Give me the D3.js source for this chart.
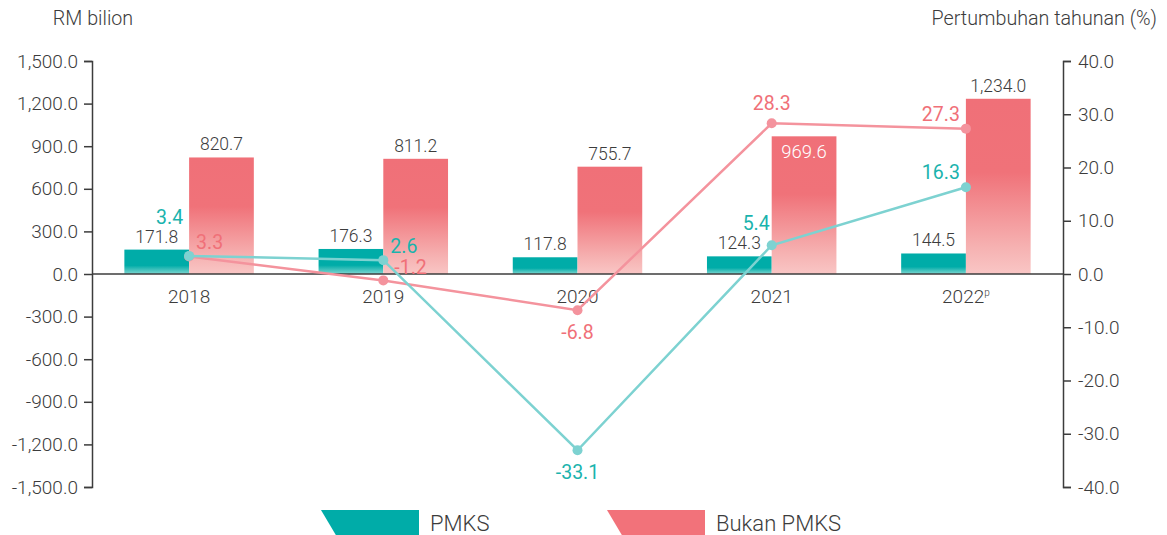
<!DOCTYPE html>
<html>
<head>
<meta charset="utf-8">
<script src="https://cdn.jsdelivr.net/npm/d3@7"></script>
<style>
  body { margin: 0; background: #fff; }
  svg { display: block; font-family: Roboto, "Noto Sans", sans-serif; }
</style>
</head>
<body>
<svg id="chart"></svg>
<script>
let width = 1167;
let height = 535;

// data
let years = ['2018', '2019', '2020', '2021', '2022'];
let pmks = [171.8, 176.3, 117.8, 124.3, 144.5];
let bukanPmks = [820.7, 811.2, 755.7, 969.6, 1234.0];
let pmksGrowth = [3.4, 2.6, -33.1, 5.4, 16.3];
let bukanGrowth = [3.3, -1.2, -6.8, 28.3, 27.3];
let leftTicks = [1500, 1200, 900, 600, 300, 0, -300, -600, -900, -1200, -1500];
let rightTicks = [40, 30, 20, 10, 0, -10, -20, -30, -40];

// where each growth label sits relative to its point
let pmksLabelPos = ['upleft', 'right', 'below', 'upleft2', 'left'];
let bukanLabelPos = ['right', 'right2', 'below', 'above', 'left'];
// bukan PMKS value drawn inside its bar (white) where the line label sits above
let bukanInside = [false, false, false, true, false];

let teal = '#00aca8';
let red = '#f07078';
let tealLine = '#7dd2d1';
let redLine = '#f4939d';
let grey = '#3c3c3c';

let plotLeft = 92, plotRight = 1063, plotTop = 61, plotBottom = 487;

const svg = d3.select('#chart')
  .attr('width', width)
  .attr('height', height);

let x = d3.scaleBand().domain(years).range([plotLeft, plotRight]);
let xIn = d3.scaleBand().domain(['a', 'b']).range([0, x.bandwidth()]).paddingOuter(0.5).paddingInner(0);
let yL = d3.scaleLinear().domain([-1500, 1500]).range([plotBottom, plotTop]);
let yR = d3.scaleLinear().domain([-40, 40]).range([plotBottom, plotTop]);

let hy = s => s.replace(/\u2212/g, '-');
let fmt = d => hy(d3.format(',.1f')(d));
let fmtR = d => hy(d3.format('.1f')(d));

let defs = svg.append('defs');
let gr = defs.append('linearGradient').attr('id', 'gRed').attr('x1', 0).attr('y1', 0).attr('x2', 0).attr('y2', 1);
gr.append('stop').attr('offset', '0').attr('stop-color', '#f07078');
gr.append('stop').attr('offset', '0.42').attr('stop-color', '#f07279');
gr.append('stop').attr('offset', '0.85').attr('stop-color', '#f6b2b2');
gr.append('stop').attr('offset', '1').attr('stop-color', '#f9c6c5');
let gt = defs.append('linearGradient').attr('id', 'gTeal').attr('x1', 0).attr('y1', 0).attr('x2', 0).attr('y2', 1);
gt.append('stop').attr('offset', '0').attr('stop-color', teal);
gt.append('stop').attr('offset', '0.65').attr('stop-color', teal);
gt.append('stop').attr('offset', '1').attr('stop-color', '#7fd6d0');

// bars
let groups = svg.append('g').selectAll('g')
  .data(years)
  .join('g')
    .attr('transform', d => `translate(${x(d)},0)`);

groups.append('rect')
  .attr('x', xIn('a'))
  .attr('width', xIn.bandwidth())
  .attr('y', (d, i) => yL(pmks[i]))
  .attr('height', (d, i) => yL(0) - yL(pmks[i]))
  .attr('fill', 'url(#gTeal)');

groups.append('rect')
  .attr('x', xIn('b'))
  .attr('width', xIn.bandwidth())
  .attr('y', (d, i) => yL(bukanPmks[i]))
  .attr('height', (d, i) => yL(0) - yL(bukanPmks[i]))
  .attr('fill', 'url(#gRed)');

groups.append('text')
  .attr('x', xIn('a') + xIn.bandwidth() / 2)
  .attr('y', (d, i) => yL(pmks[i]) - 7)
  .attr('text-anchor', 'middle')
  .attr('font-size', 17.5).attr('font-weight', 300).attr('fill', grey)
  .text((d, i) => fmt(pmks[i]));

groups.append('text')
  .attr('x', xIn('b') + xIn.bandwidth() / 2)
  .attr('y', (d, i) => bukanInside[i] ? yL(bukanPmks[i]) + 22 : yL(bukanPmks[i]) - 7)
  .attr('text-anchor', 'middle')
  .attr('font-size', (d, i) => bukanInside[i] ? 18.5 : 17.5)
  .attr('font-weight', 300)
  .attr('fill', (d, i) => bukanInside[i] ? '#fff' : grey)
  .text((d, i) => fmt(bukanPmks[i]));

// zero line
svg.append('line')
  .attr('x1', plotLeft).attr('x2', plotRight)
  .attr('y1', yL(0)).attr('y2', yL(0))
  .attr('stroke', grey).attr('stroke-width', 1.5);

// axes
let axL = svg.append('g')
  .attr('transform', `translate(${plotLeft},0)`)
  .call(d3.axisLeft(yL).tickValues(leftTicks).tickFormat(fmt).tickSize(8).tickSizeOuter(8).tickPadding(6));
let axR = svg.append('g')
  .attr('transform', `translate(${plotRight},0)`)
  .call(d3.axisRight(yR).tickValues(rightTicks).tickFormat(fmtR).tickSize(8).tickSizeOuter(8).tickPadding(7));

[axL, axR].forEach(ax => {
  ax.select('.domain').attr('stroke', grey).attr('stroke-width', 1.5);
  ax.selectAll('.tick line').attr('stroke', grey).attr('stroke-width', 1.5);
  ax.selectAll('.tick text')
    .attr('font-family', 'Roboto').attr('font-size', 19).attr('font-weight', 300).attr('fill', grey);
});

// x labels
let xl = svg.append('g').selectAll('text')
  .data(years)
  .join('text')
    .attr('x', d => x(d) + x.bandwidth() / 2)
    .attr('y', yL(0) + 29)
    .attr('text-anchor', 'middle')
    .attr('font-size', 19).attr('font-weight', 300).attr('fill', grey)
    .text(d => d);
xl.filter(d => d === '2022').append('tspan')
  .attr('font-size', 10).attr('dy', -7).text('p');

// axis titles
svg.append('text').attr('x', 93).attr('y', 25).attr('text-anchor', 'middle')
  .attr('font-size', 19.7).attr('font-weight', 300).attr('fill', grey).text('RM bilion');
svg.append('text').attr('x', 1157).attr('y', 25).attr('text-anchor', 'end')
  .attr('font-size', 19.7).attr('font-weight', 300).attr('fill', grey).text('Pertumbuhan tahunan (%)');

// growth lines
let cx = d => x(d) + x.bandwidth() / 2;

function drawLine(vals, color, textColor, positions) {
  let line = d3.line().x((d, i) => cx(years[i])).y(d => yR(d));
  svg.append('path')
    .datum(vals)
    .attr('d', line)
    .attr('fill', 'none')
    .attr('stroke', color)
    .attr('stroke-width', 2.5);
  svg.append('g').selectAll('circle')
    .data(vals)
    .join('circle')
      .attr('cx', (d, i) => cx(years[i]))
      .attr('cy', d => yR(d))
      .attr('r', 5)
      .attr('fill', color);
  let place = {
    upleft:  {dx: -6, dy: -32, a: 'end'},
    upleft2: {dx: -2, dy: -15, a: 'end'},
    right:   {dx: 7, dy: -7, a: 'start'},
    right2:  {dx: 11, dy: -6, a: 'start'},
    below:   {dx: 0, dy: 29, a: 'middle'},
    above:   {dx: 0, dy: -13, a: 'middle'},
    left:    {dx: -6, dy: -8, a: 'end'}
  };
  svg.append('g').selectAll('text')
    .data(vals)
    .join('text')
      .attr('x', (d, i) => cx(years[i]) + place[positions[i]].dx)
      .attr('y', d => yR(d))
      .attr('dy', (d, i) => place[positions[i]].dy)
      .attr('text-anchor', (d, i) => place[positions[i]].a)
      .attr('font-size', 19.5).attr('fill', textColor)
      .text(d => fmtR(d));
}

drawLine(bukanGrowth, redLine, red, bukanLabelPos);
drawLine(pmksGrowth, tealLine, '#1ab3ad', pmksLabelPos);

// legend
let legend = [
  {name: 'PMKS', color: teal, x0: 321},
  {name: 'Bukan PMKS', color: '#f2727a', x0: 607}
];
let lg = svg.append('g').selectAll('g')
  .data(legend)
  .join('g')
    .attr('transform', d => `translate(${d.x0},510)`);
lg.append('polygon')
  .attr('points', '0,0 98,0 98,27 16,27')
  .attr('fill', d => d.color);
lg.append('text')
  .attr('x', 109).attr('y', 21)
  .attr('font-size', 22).attr('font-weight', 300).attr('fill', grey)
  .text(d => d.name);
</script>
</body>
</html>
